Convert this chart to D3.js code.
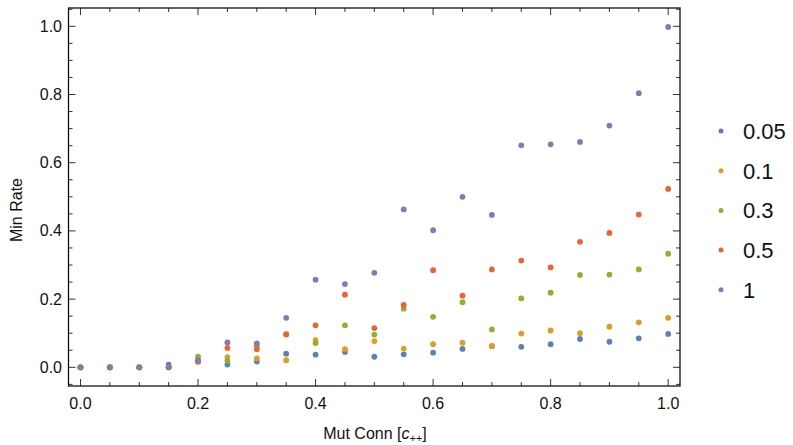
<!DOCTYPE html>
<html>
<head>
<meta charset="utf-8">
<script src="https://cdn.jsdelivr.net/npm/d3@7"></script>
<style>
  body { margin: 0; background: #fff; }
  svg { font-family: "Liberation Sans", Arial, sans-serif; }
</style>
</head>
<body>
<script>
var w = 793,
  h = 445;

// data
var xs = [0, 0.05, 0.1, 0.15, 0.2, 0.25, 0.3, 0.35, 0.4, 0.45, 0.5,
  0.55, 0.6, 0.65, 0.7, 0.75, 0.8, 0.85, 0.9, 0.95, 1.0];
var seriesNames = ['0.05', '0.1', '0.3', '0.5', '1'];
var rate005 = [0, 0, 0, 0.008, 0.018, 0.008, 0.017, 0.040, 0.037, 0.045, 0.031,
  0.038, 0.043, 0.054, 0.062, 0.060, 0.068, 0.083, 0.075, 0.085, 0.098];
var rate01 = [0, 0, 0, 0, 0.018, 0.030, 0.026, 0.021, 0.080, 0.053, 0.077,
  0.055, 0.068, 0.072, 0.063, 0.099, 0.108, 0.100, 0.119, 0.132, 0.145];
var rate03 = [0, 0, 0, 0, 0.031, 0.019, 0.062, 0.096, 0.071, 0.123, 0.096,
  0.172, 0.148, 0.191, 0.111, 0.202, 0.219, 0.271, 0.272, 0.287, 0.333];
var rate05 = [0, 0, 0, 0, 0.016, 0.057, 0.053, 0.097, 0.123, 0.213, 0.115,
  0.183, 0.285, 0.210, 0.287, 0.313, 0.293, 0.368, 0.394, 0.448, 0.523];
var rate1 = [0, 0, 0, 0, 0.021, 0.073, 0.070, 0.145, 0.257, 0.244, 0.277,
  0.463, 0.402, 0.500, 0.447, 0.651, 0.654, 0.661, 0.709, 0.804, 0.998];
var xTicks = [0, 0.2, 0.4, 0.6, 0.8, 1.0];
var yTicks = [0, 0.2, 0.4, 0.6, 0.8, 1.0];

var allSeries = [rate005, rate01, rate03, rate05, rate1];
var colors = ['#5E81B5', '#E19C24', '#8FB032', '#EB6235', '#8778B3'];

var pLeft = 68.5, pRight = 680, pTop = 8, pBottom = 386;

var x = d3.scaleLinear().domain([-0.0204, 1.0201]).range([pLeft, pRight]);
var y = d3.scaleLinear().domain([-0.0548, 1.0537]).range([pBottom, pTop]);

var svg = d3.select('body').append('svg')
  .attr('width', w)
  .attr('height', h);

// minor tick positions every 0.05
var minorX = d3.range(0, 1.0001, 0.05).map(function (d) { return +d.toFixed(2); });
var minorY = d3.range(-0.05, 1.0501, 0.05).map(function (d) { return +d.toFixed(2); });
function isMajor(v) { return Math.abs(v * 5 - Math.round(v * 5)) < 1e-6; }

var ticks = svg.append('g').attr('stroke', '#333').attr('stroke-width', 1);

minorX.forEach(function (v) {
  var len = isMajor(v) ? 7 : 4;
  var px = x(v);
  ticks.append('line').attr('x1', px).attr('x2', px).attr('y1', pBottom).attr('y2', pBottom - len);
  ticks.append('line').attr('x1', px).attr('x2', px).attr('y1', pTop).attr('y2', pTop + len);
});
minorY.forEach(function (v) {
  var len = isMajor(v) ? 7 : 4;
  var py = y(v);
  ticks.append('line').attr('y1', py).attr('y2', py).attr('x1', pLeft).attr('x2', pLeft + len);
  ticks.append('line').attr('y1', py).attr('y2', py).attr('x1', pRight).attr('x2', pRight - len);
});

// frame
svg.append('rect')
  .attr('x', pLeft)
  .attr('y', pTop)
  .attr('width', pRight - pLeft)
  .attr('height', pBottom - pTop)
  .attr('fill', 'none')
  .attr('stroke', '#111')
  .attr('stroke-width', 1.3);

// tick labels
svg.append('g').selectAll('text')
  .data(xTicks)
  .enter().append('text')
  .attr('x', function (d) { return x(d); })
  .attr('y', 409)
  .attr('text-anchor', 'middle')
  .attr('font-size', 16)
  .attr('fill', '#111')
  .text(function (d) { return d.toFixed(1); });

svg.append('g').selectAll('text')
  .data(yTicks)
  .enter().append('text')
  .attr('x', 62)
  .attr('y', function (d) { return y(d) + 5.5; })
  .attr('text-anchor', 'end')
  .attr('font-size', 16)
  .attr('fill', '#111')
  .text(function (d) { return d.toFixed(1); });

// axis labels
var xl = svg.append('text')
  .attr('x', 375)
  .attr('y', 439)
  .attr('text-anchor', 'middle')
  .attr('font-size', 16)
  .attr('fill', '#111');
xl.append('tspan').text('Mut Conn [');
xl.append('tspan').attr('font-style', 'italic').text('c');
xl.append('tspan').attr('font-size', 11).attr('dy', 3).text('++');
xl.append('tspan').attr('dy', -3).text(']');

svg.append('text')
  .attr('transform', 'translate(22,210) rotate(-90)')
  .attr('text-anchor', 'middle')
  .attr('font-size', 16)
  .attr('fill', '#111')
  .text('Min Rate');

// points
allSeries.forEach(function (vals, si) {
  svg.append('g').selectAll('circle')
    .data(vals)
    .enter().append('circle')
    .attr('cx', function (d, i) { return x(xs[i]); })
    .attr('cy', function (d) { return y(d); })
    .attr('r', 2.9)
    .attr('fill', colors[si]);
});

// legend
var legend = svg.append('g').selectAll('g')
  .data(seriesNames)
  .enter().append('g')
  .attr('transform', function (d, i) { return 'translate(721,' + (131 + i * 39.7) + ')'; });

legend.append('circle')
  .attr('r', 2.5)
  .attr('fill', function (d, i) { return colors[i]; });

legend.append('text')
  .attr('x', 22)
  .attr('y', 8)
  .attr('font-size', 22)
  .attr('fill', '#111')
  .text(function (d) { return d; });
</script>
</body>
</html>
